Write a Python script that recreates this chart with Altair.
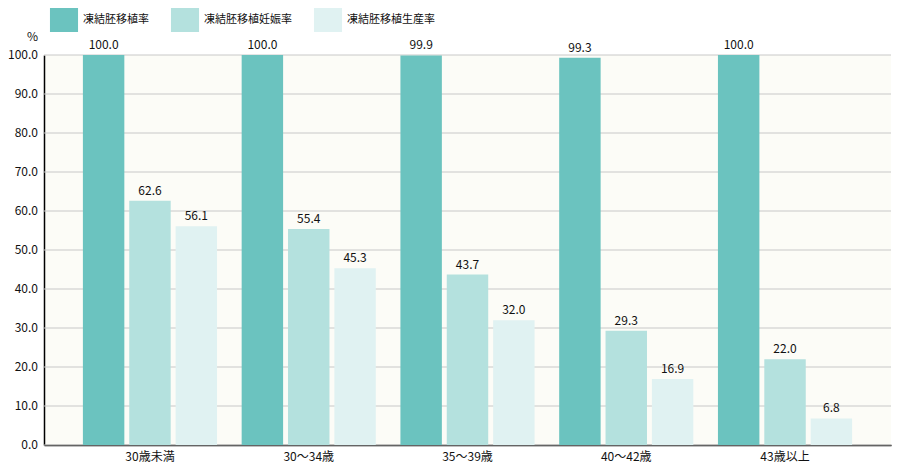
import altair as alt
import pandas as pd

categories = ["30歳未満", "30～34歳", "35～39歳", "40～42歳", "43歳以上"]
series = ["凍結胚移植率", "凍結胚移植妊娠率", "凍結胚移植生産率"]
rate_transfer = [100.0, 100.0, 99.9, 99.3, 100.0]
rate_pregnancy = [62.6, 55.4, 43.7, 29.3, 22.0]
rate_birth = [56.1, 45.3, 32.0, 16.9, 6.8]
colors = ["#6BC3BF", "#B4E1DE", "#E0F2F2"]
y_ticks = [0, 10, 20, 30, 40, 50, 60, 70, 80, 90, 100]

rows = []
for s, vals in zip(series, [rate_transfer, rate_pregnancy, rate_birth]):
    for c, v in zip(categories, vals):
        rows.append({"age": c, "series": s, "value": v})
df = pd.DataFrame(rows)
ticks_df = pd.DataFrame({"value": y_ticks})

FONT = "Noto Sans CJK JP"
FS = 12

x_scale = alt.Scale(domain=categories, paddingInner=0.155, paddingOuter=0.245, align=0.5)
x_axis = alt.Axis(labelAngle=0, ticks=False, domainColor="#000000",
                  domainWidth=1.5, labelPadding=6, labelFontSize=FS,
                  labelColor="#111111", labelFont=FONT, grid=False)
x_enc = alt.X("age:N", sort=categories, title=None, scale=x_scale, axis=x_axis)
xo_enc = alt.XOffset("series:N", sort=series,
                     scale=alt.Scale(paddingInner=0.106, paddingOuter=0))
y_scale = alt.Scale(domain=[0, 100], nice=False)
y_axis = alt.Axis(grid=False, labels=False, ticks=False,
                  domainColor="#000000", domainWidth=1.5,
                  title="%", titleAngle=0, titleX=-12, titleY=-12,
                  titleAlign="center", titleBaseline="bottom",
                  titleFontSize=FS, titleFontWeight="normal",
                  titleFont=FONT, titleColor="#111111")
y_enc = alt.Y("value:Q", scale=y_scale, axis=y_axis, title="%")

grid = alt.Chart(ticks_df).mark_rule(color="#C8C8C8", strokeWidth=1).encode(
    y=y_enc,
)

tick_labels = alt.Chart(ticks_df).mark_text(
    align="right", baseline="middle", fontSize=FS, font=FONT, color="#111111"
).encode(
    y=y_enc,
    x=alt.value(-6),
    text=alt.Text("value:Q", format=".1f"),
)

bars = alt.Chart(df).mark_bar().encode(
    x=x_enc,
    xOffset=xo_enc,
    y=y_enc,
    color=alt.Color("series:N", sort=series,
                    scale=alt.Scale(domain=series, range=colors),
                    legend=alt.Legend(title=None, orient="none", direction="horizontal",
                                      legendX=8, legendY=-47, padding=0,
                                      symbolType="M-1.17,-1H1.17V1H-1.17Z",
                                      symbolSize=576, symbolStrokeWidth=0,
                                      symbolOpacity=1,
                                      labelFont=FONT, labelFontSize=11,
                                      labelColor="#111111", labelOffset=7,
                                      columnPadding=21)),
)

labels = alt.Chart(df).mark_text(baseline="bottom", dy=-3, fontSize=FS,
                                 font=FONT, color="#111111").encode(
    x=x_enc,
    xOffset=xo_enc,
    y=y_enc,
    text=alt.Text("value:Q", format=".1f"),
)

chart = alt.layer(grid, bars, labels, tick_labels).properties(
    width=847, height=390,
    autosize=alt.AutoSizeParams(type="none"),
    padding={"left": 36, "top": 47, "right": 1, "bottom": 19},
    background="#FFFFFF",
).configure_view(fill="#FCFCF7", stroke=None)

chart.save("out.html", embed_options={"renderer": "svg", "actions": False})
